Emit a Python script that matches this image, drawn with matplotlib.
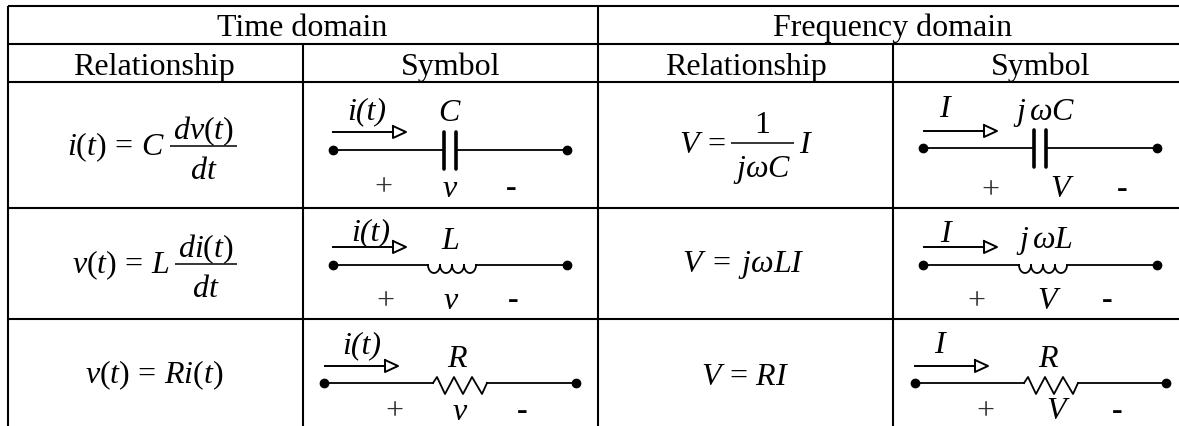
import matplotlib
matplotlib.use("Agg")
import matplotlib.pyplot as plt
import numpy as np

plt.rcParams['font.family'] = ['Liberation Serif', 'DejaVu Serif']
plt.rcParams['mathtext.fontset'] = 'custom'
plt.rcParams['mathtext.rm'] = 'Liberation Serif'
plt.rcParams['mathtext.it'] = 'Liberation Serif:italic'
plt.rcParams['mathtext.cal'] = 'Liberation Serif:italic'

# table grid, pixels
col_x = [8, 303, 598, 893]
row_y = [7, 45, 83, 209, 320]
RIGHT = 1179
BOTTOM = 427

headers = ["Time domain", "Frequency domain"]
header_x = [302, 893]
sub_headers = ["Relationship", "Symbol", "Relationship", "Symbol"]
sub_x = [154, 451, 746, 1041]

# plain equations
plain_eqs = [r"$v(t)\/=\/Ri(t)$", r"$V\;=\;j\omega LI$", r"$V\/=\/RI$"]
plain_x = [154, 743, 745]
plain_y = [383, 272, 385]

# equations with a fraction: left part, numerator, denominator, right part
frac_left = [r"$i(t)\/=\/C$", r"$v(t)\/=\/L$", r"$V\/=$"]
frac_num = [r"$dv(t)$", r"$di(t)$", r"$1$"]
frac_den = [r"$dt$", r"$dt$", r"$j\omega C$"]
frac_right = ["", "", r"$I$"]
frac_x0 = [170, 175, 731]
frac_x1 = [237, 237, 794]
frac_y = [147, 265, 144]
frac_base = [155, 273, 153]
frac_num_y = [139, 257, 133]
frac_den_y = [179, 297, 177]

# symbols: wire start/end, wire y, arrow start/y
wire_x0 = [333, 333, 324, 923, 923, 915]
wire_x1 = [567, 567, 576, 1157, 1157, 1166]
wire_y = [151, 266, 384, 149, 266, 384]
arrow_x0 = [333, 333, 325, 924, 924, 915]
arrow_y = [133, 248, 367, 132, 248, 367]
kinds = ["C", "L", "R", "C", "L", "R"]
elem_x = [450, 452, 460, 1040, 1043, 1051]

cur_text = ["i(t)", "i(t)", "i(t)", "I", "I", "I"]
cur_x = [367, 371, 362, 944, 945, 939]
cur_y = [119, 240, 353, 117, 242, 353]
name_text = ["C", "L", "R", r"j\,\omega C", r"j\,\omega L", "R"]
name_x = [450, 450, 458, 1044, 1045, 1049]
name_y = [121, 249, 367, 120, 248, 367]
plus_x = [383, 385, 394, 990, 976, 985]
plus_y = [187, 301, 411, 190, 301, 411]
volt_text = ["v", "v", "v", "V", "V", "V"]
volt_x = [450, 451, 460, 1060, 1047, 1056]
volt_y = [197, 309, 420, 197, 309, 419]
minus_x = [511, 513, 522, 1122, 1107, 1117]
minus_y = [190, 302, 413, 191, 302, 413]

# zigzag of the resistor, offsets from its centre and from the wire
zig_dx = [-27, -23, -15, -6, 3, 12, 22, 27]
zig_dy = [0, -6, 11, -6, 11, -6, 11, 0]

FS = 23
fig = plt.figure(figsize=(11.79, 4.27), dpi=100)
ax = fig.add_axes([0, 0, 1, 1])
ax.set_xlim(0, 1179)
ax.set_ylim(427, 0)
ax.axis('off')

lw = 1.5
for y in row_y:
    ax.plot([col_x[0], RIGHT], [y, y], color='k', lw=lw, solid_capstyle='butt')
for i, x in enumerate(col_x):
    y0 = row_y[0] if i % 2 == 0 else row_y[1]
    ax.plot([x, x], [y0, BOTTOM], color='k', lw=lw, solid_capstyle='butt')

for j, h in enumerate(headers):
    ax.text(header_x[j], 36, h, fontsize=FS, ha='center', va='baseline')
for j, h in enumerate(sub_headers):
    ax.text(sub_x[j], 75, h, fontsize=FS, ha='center', va='baseline')
for j in range(3):
    ax.text(plain_x[j], plain_y[j], plain_eqs[j], fontsize=FS, ha='center', va='baseline')
    x0, x1 = frac_x0[j], frac_x1[j]
    ax.plot([x0, x1], [frac_y[j], frac_y[j]], color='k', lw=1.1, solid_capstyle='butt')
    ax.text(x0 - 5, frac_base[j], frac_left[j], fontsize=FS, ha='right', va='baseline')
    ax.text((x0 + x1) / 2, frac_num_y[j], frac_num[j], fontsize=FS, ha='center', va='baseline')
    ax.text((x0 + x1) / 2, frac_den_y[j], frac_den[j], fontsize=FS, ha='center', va='baseline')
    if frac_right[j]:
        ax.text(x1 + 5, frac_base[j], frac_right[j], fontsize=FS, ha='left', va='baseline')

for k in range(6):
    wy = wire_y[k]
    ex = elem_x[k]
    if kinds[k] == "C":
        gap = 6
    elif kinds[k] == "L":
        gap = 24
    else:
        gap = 27
    ax.plot([wire_x0[k], ex - gap], [wy, wy], color='k', lw=1.3)
    ax.plot([ex + gap, wire_x1[k]], [wy, wy], color='k', lw=1.3)
    if kinds[k] == "C":
        for px in (ex - gap, ex + gap):
            ax.plot([px, px], [wy - 18, wy + 19], color='k', lw=2.6, solid_capstyle='round')
    elif kinds[k] == "L":
        t = np.linspace(0, np.pi, 20)
        for n in range(4):
            cx = ex - 18 + 12 * n
            ax.plot(cx - 6 * np.cos(t), wy + 8 * np.sin(t), color='k', lw=1.3)
    else:
        ax.plot(ex + np.array(zig_dx), wy + np.array(zig_dy), color='k', lw=1.3)
    ax.plot([wire_x0[k], wire_x1[k]], [wy, wy], ls='none', marker='o', ms=6, color='k')

    ay = arrow_y[k]
    a0 = arrow_x0[k]
    ax.plot([a0, a0 + 60], [ay, ay], color='k', lw=1.4)
    ax.plot([a0 + 60, a0 + 60, a0 + 73, a0 + 60], [ay - 6, ay + 6, ay, ay - 6], color='k', lw=1.4)

    ax.text(cur_x[k], cur_y[k], cur_text[k], fontsize=FS, style='italic', ha='center', va='baseline')
    ax.text(name_x[k], name_y[k], "$" + name_text[k] + "$", fontsize=FS, ha='center', va='baseline')
    ax.text(plus_x[k], plus_y[k] + 8, "+", fontsize=FS, ha='center', va='baseline', color='#333333')
    ax.text(volt_x[k], volt_y[k], volt_text[k], fontsize=FS, style='italic', ha='center', va='baseline')
    ax.text(minus_x[k], minus_y[k] + 6, "-", fontsize=FS, ha='center', va='baseline', fontweight='bold')

fig.savefig("out.png", dpi=100)
